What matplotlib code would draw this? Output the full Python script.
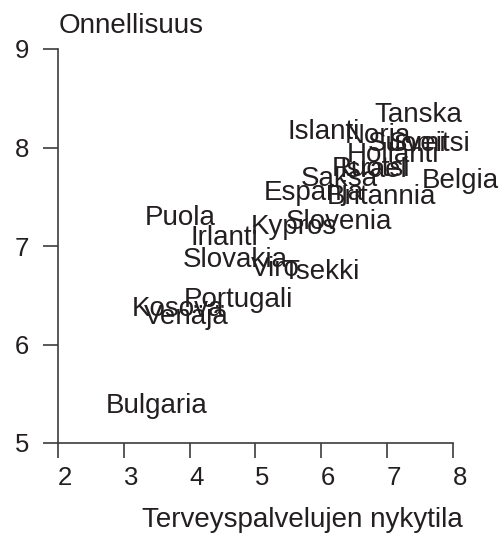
import matplotlib
matplotlib.use("Agg")
import matplotlib.pyplot as plt
import matplotlib.transforms as mtransforms

# Data (label centre positions)
countries = ["Tanska", "Islanti", "Norja", "Sveitsi", "Suomi", "Hollanti",
             "Ruotsi", "Israel", "Saksa", "Espanja", "Britannia", "Belgia",
             "Slovenia", "Kypros", "Puola", "Irlanti", "Slovakia", "Viro",
             "Tsekki", "Portugali", "Kosova", "Venäjä", "Bulgaria"]
health = [7.48, 6.03, 6.86, 7.65, 7.30, 7.09,
          6.76, 6.79, 6.27, 5.89, 6.91, 8.11,
          6.27, 5.59, 3.85, 4.52, 4.70, 5.30,
          6.00, 4.74, 3.82, 3.95, 3.50]
happiness = [8.36, 8.19, 8.15, 8.06, 8.06, 7.95,
             7.81, 7.80, 7.71, 7.57, 7.53, 7.69,
             7.27, 7.22, 7.31, 7.11, 6.89, 6.80,
             6.77, 6.48, 6.39, 6.31, 5.40]
xticks = [2, 3, 4, 5, 6, 7, 8]
yticks = [5, 6, 7, 8, 9]

TXT = "#231f20"
LINE = "#3c3c3c"
plt.rcParams["font.family"] = ["Liberation Sans", "DejaVu Sans"]

fig = plt.figure(figsize=(5.04, 5.35), dpi=100)
ax = fig.add_axes([58 / 504, 1 - 443 / 535, (453 - 58) / 504, (443 - 49) / 535])
ax.set_xlim(2, 8)
ax.set_ylim(5, 9)

for s in ["top", "right"]:
    ax.spines[s].set_visible(False)
for s in ["left", "bottom"]:
    ax.spines[s].set_color(LINE)
    ax.spines[s].set_linewidth(1.2)

ax.set_xticks(xticks)
ax.set_yticks(yticks)
ax.tick_params(axis="both", length=11, width=1.2, color=LINE,
               labelsize=18.5, labelcolor=TXT)
ax.tick_params(axis="x", pad=5.5)
ax.tick_params(axis="y", pad=10)

# x tick labels sit a little to the right of their ticks
shift = mtransforms.ScaledTranslation(0.07, 0, fig.dpi_scale_trans)
for lab in ax.get_xticklabels():
    lab.set_transform(lab.get_transform() + shift)

# country names centred on their points (cap centre)
down = mtransforms.ScaledTranslation(0, -0.099, fig.dpi_scale_trans)
for name, x, y in zip(countries, health, happiness):
    ax.text(x, y, name, transform=ax.transData + down, ha="center",
            va="baseline", fontsize=20, color=TXT, clip_on=False)

fig.text(59 / 504, 1 - 33 / 535, "Onnellisuus", ha="left", va="baseline",
         fontsize=20, color=TXT)
fig.text(302 / 504, 1 - 527 / 535, "Terveyspalvelujen nykytila", ha="center",
         va="baseline", fontsize=20, color=TXT)

fig.savefig("out.png", dpi=100)
